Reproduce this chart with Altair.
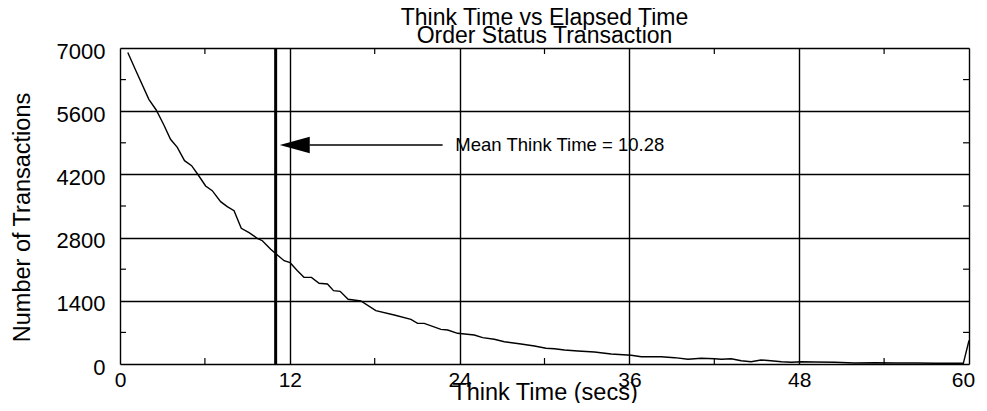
import altair as alt
import pandas as pd

# ---- data ----
think_time = [0.55, 1.1, 2.04, 2.56, 3.1, 3.57, 4.05, 4.56, 5.06, 5.53, 6.05, 6.52, 7.11, 7.58,
              8.06, 8.57, 9.12, 9.7, 10.06, 10.65, 11.12, 11.6, 12.02, 12.54, 13.0, 13.53, 14.07,
              14.66, 15.09, 15.56, 16.12, 17.02, 18.08, 19.38, 20.56, 21.03, 21.5, 22.68, 23.16,
              23.86, 25.04, 25.63, 26.45, 27.16, 28.34, 29.29, 30.11, 30.7, 31.41, 32.36, 33.53,
              34.71, 36.13, 36.84, 38.25, 39.2, 40.14, 41.08, 42.02, 42.5, 43.2, 43.9, 44.6, 45.3,
              46.0, 46.75, 47.45, 48.15, 49.1, 50.5, 51.9, 53.35, 54.8, 56.2, 57.6, 59.0, 59.6, 60.0]
transactions = [6900, 6513, 5864, 5627, 5295, 4978, 4800, 4504, 4393, 4187, 3943, 3839, 3596, 3485,
                3396, 3006, 2909, 2785, 2731, 2541, 2415, 2288, 2244, 2067, 1920, 1920, 1788,
                1772, 1624, 1610, 1433, 1396, 1181, 1085, 990, 901, 901, 768, 753,
                680, 642, 583, 547, 494, 443, 399, 348, 339, 310, 288, 266,
                222, 193, 162, 162, 140, 104, 126, 117, 104, 117, 73, 51, 89,
                73, 51, 38, 51, 44, 38, 22, 29, 22, 22, 15, 15, 15, 520]

x_ticks = [0, 12, 24, 36, 48, 60]
y_ticks = [0, 1400, 2800, 4200, 5600, 7000]
x_minor = [6, 18, 30, 42, 54]
y_minor = [700, 2100, 3500, 4900, 6300]

mean_line_x = 11.0
arrow_y = 4850
arrow_from = 22.8
arrow_to = 13.4
arrowhead_x = 12.35
label_x = 23.7
label_text = "Mean Think Time = 10.28"

title_lines = ["Think Time vs Elapsed Time", "Order Status Transaction"]
x_title = "Think Time (secs)"
y_title = "Number of Transactions"

FONT = "Liberation Sans"
X_MIN, X_MAX = 0, 60
Y_MIN, Y_MAX = 0, 7000
TICK_X = 0.42   # minor tick length in x units (~6px)
TICK_Y = 133    # minor tick length in y units (~6px)

xs = alt.Scale(domain=[X_MIN, X_MAX], nice=False, zero=False)
ys = alt.Scale(domain=[Y_MIN, Y_MAX], nice=False)

curve_df = pd.DataFrame({"t": think_time, "v": transactions})

curve = alt.Chart(curve_df).mark_line(color="black", strokeWidth=1.4).encode(
    x=alt.X("t:Q", scale=xs, title=x_title,
            axis=alt.Axis(values=x_ticks, grid=True, gridColor="black", gridWidth=1.4,
                          gridOpacity=1, ticks=False, domain=False, labelFontSize=21,
                          labelFont=FONT, labelColor="black", labelPadding=5,
                          labelFlush=False, format="d",
                          labelOffset=alt.condition(f"datum.value == {X_MAX}",
                                                    alt.value(-6), alt.value(0)),
                          titleFontSize=23.5, titleFont=FONT,
                          titleFontWeight="normal", titleColor="black", titleY=28,
                          titleBaseline="middle")),
    y=alt.Y("v:Q", scale=ys, title=y_title,
            axis=alt.Axis(values=y_ticks, grid=True, gridColor="black", gridWidth=1.4,
                          gridOpacity=1, ticks=False, domain=False, labelFontSize=22,
                          labelFont=FONT, labelColor="black", labelPadding=15,
                          labelBaseline="middle", labelOffset=3, format="d",
                          titleFontSize=23.5, titleFont=FONT,
                          titleFontWeight="normal", titleColor="black", titleX=-98,
                          titleY=169, titleBaseline="middle", titleAngle=270)),
)

# minor ticks on left/right (horizontal short rules)
yt_rows = []
for v in y_minor:
    yt_rows.append({"v": v, "t": X_MIN, "t2": X_MIN + TICK_X})
    yt_rows.append({"v": v, "t": X_MAX - TICK_X, "t2": X_MAX})
ytick = alt.Chart(pd.DataFrame(yt_rows)).mark_rule(color="black", strokeWidth=1.2).encode(
    x=alt.X("t:Q", scale=xs), x2="t2:Q", y=alt.Y("v:Q", scale=ys))

# minor ticks on bottom/top (vertical short rules)
xt_rows = []
for t in x_minor:
    xt_rows.append({"t": t, "v": Y_MIN, "v2": Y_MIN + TICK_Y})
    xt_rows.append({"t": t, "v": Y_MAX - TICK_Y, "v2": Y_MAX})
xtick = alt.Chart(pd.DataFrame(xt_rows)).mark_rule(color="black", strokeWidth=1.2).encode(
    x=alt.X("t:Q", scale=xs), y=alt.Y("v:Q", scale=ys), y2="v2:Q")

mean_rule = alt.Chart(pd.DataFrame({"t": [mean_line_x]})).mark_rule(
    color="black", strokeWidth=3).encode(x=alt.X("t:Q", scale=xs))

shaft = alt.Chart(pd.DataFrame({"t": [arrow_to], "t2": [arrow_from], "v": [arrow_y]})).mark_rule(
    color="black", strokeWidth=1.4).encode(x=alt.X("t:Q", scale=xs), x2="t2:Q",
                                            y=alt.Y("v:Q", scale=ys))

head = alt.Chart(pd.DataFrame({"t": [arrowhead_x], "v": [arrow_y]})).mark_point(
    shape="M -1 0 L 1 -0.55 L 1 0.55 Z", filled=True, color="black", opacity=1,
    size=900, strokeWidth=0).encode(x=alt.X("t:Q", scale=xs), y=alt.Y("v:Q", scale=ys))

label = alt.Chart(pd.DataFrame({"t": [label_x], "v": [arrow_y], "txt": [label_text]})).mark_text(
    align="left", baseline="middle", font=FONT, fontSize=18.5, color="black").encode(
    x=alt.X("t:Q", scale=xs), y=alt.Y("v:Q", scale=ys), text="txt:N")

chart = alt.layer(curve, ytick, xtick, mean_rule, shaft, head, label).properties(
    width=849, height=316,
    padding={"left": 112, "top": 40, "right": 10, "bottom": 39},
    autosize=alt.AutoSizeParams(type="none"),
    title=alt.TitleParams(text=title_lines, font=FONT, fontSize=23, fontWeight="normal",
                          color="black", lineHeight=18, anchor="middle", baseline="bottom",
                          offset=0, dy=31),
).configure_view(stroke="black", strokeWidth=2).configure(background="white")

chart.save("out.html", embed_options={"renderer": "svg", "actions": False})
